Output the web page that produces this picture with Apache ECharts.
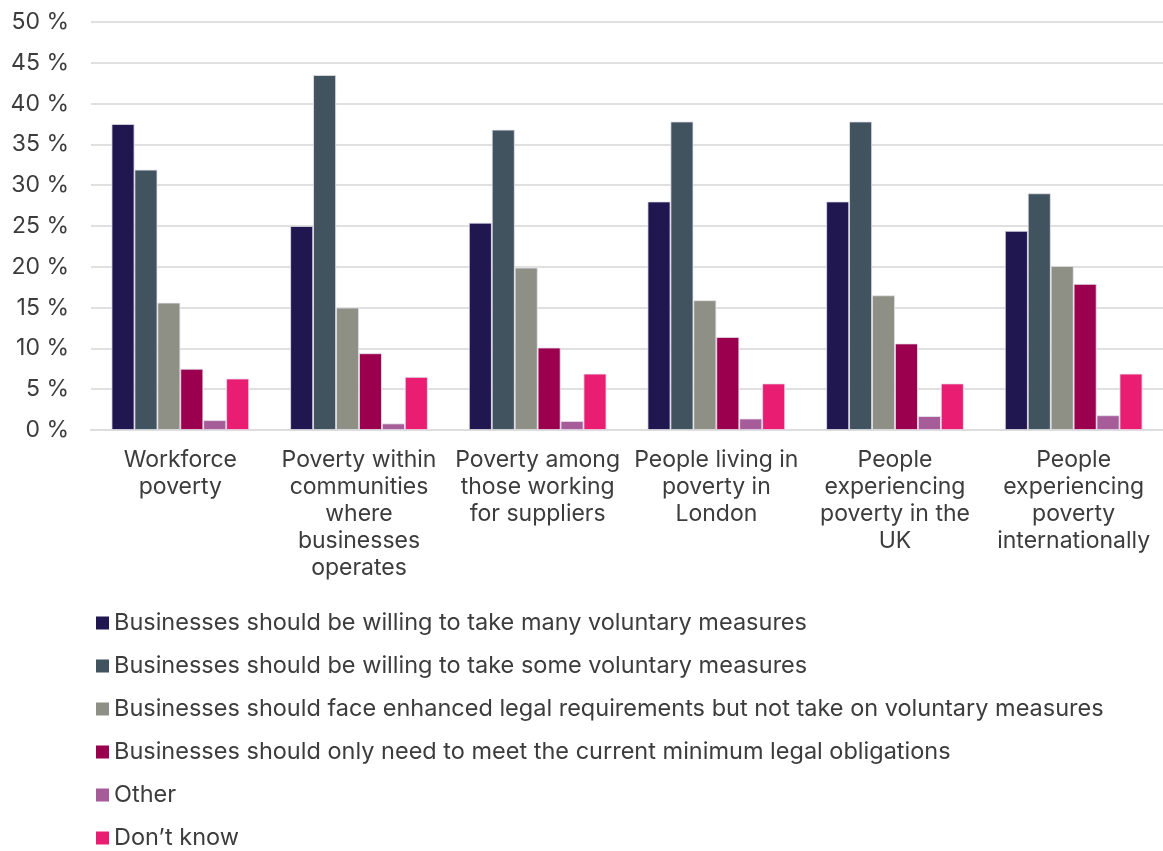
<!DOCTYPE html>
<html>
<head>
<meta charset="utf-8">
<script src="https://cdn.jsdelivr.net/npm/echarts@6/dist/echarts.min.js"></script>
<style>
  html, body { margin: 0; padding: 0; background: #fff; }
  #chart { width: 1163px; height: 851px; }
</style>
</head>
<body>
<div id="chart"></div>
<script>
var categories = [
  'Workforce\npoverty',
  'Poverty within\ncommunities\nwhere\nbusinesses\noperates',
  'Poverty among\nthose working\nfor suppliers',
  'People living in\npoverty in\nLondon',
  'People\nexperiencing\npoverty in the\nUK',
  'People\nexperiencing\npoverty\ninternationally'
];
var seriesNames = [
  'Businesses should be willing to take many voluntary measures',
  'Businesses should be willing to take some voluntary measures',
  'Businesses should face enhanced legal requirements but not take on voluntary measures',
  'Businesses should only need to meet the current minimum legal obligations',
  'Other',
  'Don\u2019t know'
];
var manyVoluntary = [37.5, 25.0, 25.4, 28.0, 28.0, 24.4];
var someVoluntary = [31.9, 43.5, 36.8, 37.8, 37.8, 29.0];
var enhancedLegal = [15.6, 15.0, 19.9, 15.9, 16.5, 20.1];
var minimumLegal = [7.5, 9.4, 10.1, 11.4, 10.6, 17.9];
var other = [1.2, 0.8, 1.1, 1.4, 1.7, 1.8];
var dontKnow = [6.3, 6.5, 6.9, 5.7, 5.7, 6.9];
var colors = ['#201750', '#40535f', '#8f9085', '#9b004e', '#a55c99', '#e91e73'];

var allValues = [manyVoluntary, someVoluntary, enhancedLegal, minimumLegal, other, dontKnow];
var font = 'Inter, "Noto Sans", sans-serif';

var chart = echarts.init(document.getElementById('chart'));
chart.setOption({
  animation: false,
  color: colors,
  textStyle: { fontFamily: font },
  grid: { left: 91, top: 22, width: 1076, height: 408, containLabel: false },
  legend: {
    orient: 'vertical',
    left: 91,
    top: 606,
    height: 260,
    icon: 'rect',
    itemWidth: 13,
    itemHeight: 13,
    itemGap: 19,
    itemStyle: { borderWidth: 0 },
    textStyle: { fontSize: 23.5, color: '#3c3c3c', lineHeight: 24, fontFamily: font }
  },
  xAxis: {
    type: 'category',
    data: categories,
    axisTick: { show: false },
    axisLine: { lineStyle: { color: '#dddddd', width: 2 } },
    axisLabel: {
      interval: 0,
      fontSize: 23,
      lineHeight: 27,
      color: '#3c3c3c',
      margin: 17,
      fontFamily: font
    }
  },
  yAxis: {
    type: 'value',
    min: 0,
    max: 50,
    interval: 5,
    axisLabel: {
      formatter: '{value} %',
      fontSize: 23,
      color: '#3c3c3c',
      margin: 22,
      fontFamily: font
    },
    splitLine: { lineStyle: { color: '#e0e0e0', width: 2 } }
  },
  series: seriesNames.map(function (name, i) {
    return {
      name: name,
      type: 'bar',
      data: allValues[i],
      barGap: '0%',
      barCategoryGap: '23%',
      itemStyle: { borderColor: '#e8e4ee', borderWidth: 0.8 }
    };
  })
});
</script>
</body>
</html>
